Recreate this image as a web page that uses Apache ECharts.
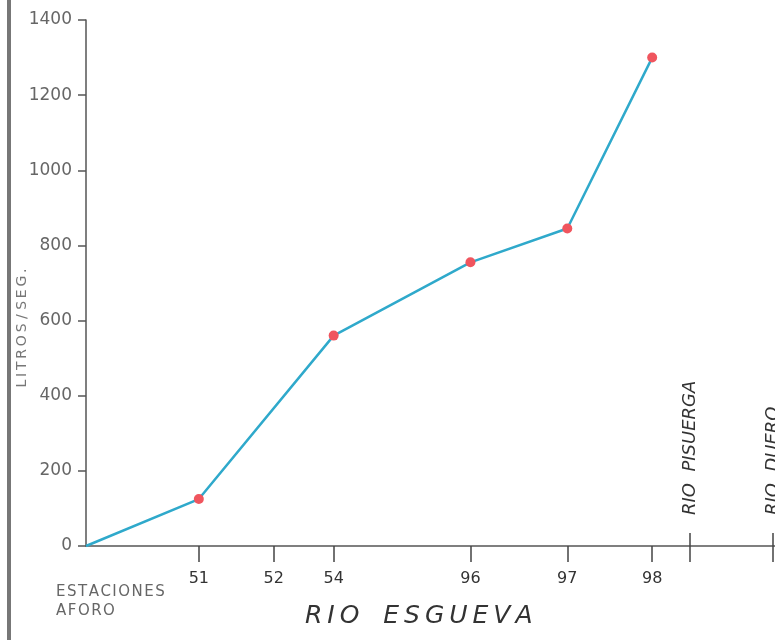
<!DOCTYPE html>
<html>
<head>
<meta charset="utf-8">
<script src="https://cdn.jsdelivr.net/npm/echarts@6/dist/echarts.min.js"></script>
<style>
    html, body { margin: 0; padding: 0; background: #fff; }
    #chart { width: 775px; height: 640px; }
</style>
</head>
<body>
<div id="chart"></div>
<script>
// gauging stations along the Esgueva (distance downstream, arbitrary km)
const stationNames = ["51", "52", "54", "96", "97", "98"]
const stationKm    = [11.3, 18.8, 24.8, 38.5, 48.2, 56.7]
const flowValues   = [125, null, 560, 755, 845, 1300]   // litros / seg.

// confluences marked on the axis
const riverNames = ["RIO  PISUERGA", "RIO  DUERO"]
const riverKm    = [60.5, 68.8]

const yMax = 1400
const yStep = 200
const xMax = 69

const axisGrey = "#555"
const font = "DejaVu Sans"
const thin = "\u2009"
const hair = "\u200A"
const spaced = (s, gap = thin) => s.split("").join(gap)

// line starts at the origin, station 52 has no reading
const lineData = [{ value: [0, 0], symbol: "none" }]
stationKm.forEach((km, i) => {
    if (flowValues[i] !== null) {
        lineData.push([km, flowValues[i]])
    }
})

const chart = echarts.init(document.getElementById("chart"))
chart.setOption({
    animation: false,
    backgroundColor: "#fff",
    grid: { left: 86, right: 0, top: 20, bottom: 94, containLabel: false, outerBoundsMode: "none" },
    xAxis: [
        {
            type: "value",
            min: 0,
            max: xMax,
            splitLine: { show: false },
            axisLine: { show: true, lineStyle: { color: axisGrey, width: 1.5 } },
            axisTick: {
                show: true,
                length: 16,
                customValues: stationKm,
                lineStyle: { color: "#444", width: 1.5 },
            },
            axisLabel: {
                customValues: stationKm,
                formatter: v => stationNames[stationKm.indexOf(v)],
                margin: 25,
                color: "#333",
                fontSize: 16,
                fontFamily: font,
            },
        },
        {
            type: "value",
            min: 0,
            max: xMax,
            position: "bottom",
            offset: -13,
            splitLine: { show: false },
            axisLine: { show: false },
            axisTick: {
                show: true,
                length: 29,
                customValues: riverKm,
                lineStyle: { color: "#444", width: 1.5 },
            },
            axisLabel: {
                customValues: riverKm,
                formatter: v => riverNames[riverKm.indexOf(v)],
                inside: true,
                rotate: 90,
                margin: 18,
                color: "#333",
                fontSize: 18,
                fontStyle: "italic",
                fontFamily: font,
            },
        },
    ],
    yAxis: {
        type: "value",
        min: 0,
        max: yMax,
        interval: yStep,
        splitLine: { show: false },
        axisLine: { show: true, lineStyle: { color: axisGrey, width: 1.5 } },
        axisTick: { show: true, length: 8, lineStyle: { color: axisGrey, width: 1.5 } },
        axisLabel: {
            formatter: v => String(v),
            margin: 14,
            color: "#666",
            fontSize: 17,
            fontFamily: font,
        },
    },
    series: [{
        type: "line",
        data: lineData,
        symbol: "circle",
        symbolSize: 10,
        lineStyle: { color: "#2fa9cb", width: 2.5 },
        itemStyle: { color: "#f0555e" },
        z: 3,
    }],
    graphic: [
        {
            type: "rect",
            shape: { x: 7, y: 0, width: 4, height: 640 },
            style: { fill: "#777" },
        },
        {
            type: "text",
            x: 22,
            y: 328,
            rotation: Math.PI / 2,
            style: {
                text: "LITROS / SEG.".split(" ").map(w => spaced(w)).join(" "),
                font: "14px " + font,
                fill: "#777",
                textAlign: "center",
                textVerticalAlign: "middle",
            },
        },
        {
            type: "text",
            x: 56,
            y: 592,
            style: {
                text: spaced("ESTACIONES", hair),
                font: "15px " + font,
                fill: "#666",
                textVerticalAlign: "middle",
            },
        },
        {
            type: "text",
            x: 56,
            y: 611,
            style: {
                text: spaced("AFORO", hair),
                font: "15px " + font,
                fill: "#666",
                textVerticalAlign: "middle",
            },
        },
        {
            type: "text",
            x: 305,
            y: 616,
            style: {
                text: spaced("RIO") + "   " + spaced("ESGUEVA"),
                font: "italic 25px " + font,
                fill: "#333",
                textVerticalAlign: "middle",
            },
        },
    ],
})
</script>
</body>
</html>
